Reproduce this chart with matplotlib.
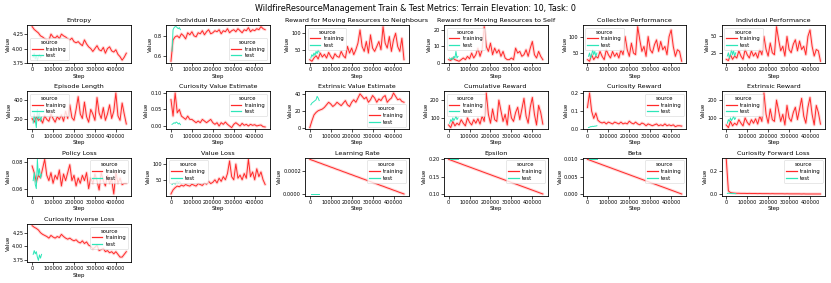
import numpy as np
import matplotlib
matplotlib.use("Agg")
import matplotlib.pyplot as plt
from matplotlib.lines import Line2D

TRAIN_STEPS = list(range(0, 460000, 10000))   # 46 points
TEST_STEPS = list(range(5000, 50000, 5000))   # 9 points

entropy_train = [4.38, 4.33, 4.30, 4.27, 4.22, 4.20, 4.17, 4.15, 4.14, 4.25, 4.20, 4.18, 4.22, 4.17, 4.25, 4.22, 4.20, 4.17, 4.15, 4.18, 4.12, 4.10, 4.12, 4.08, 4.05, 4.15, 4.08, 4.03, 4.00, 3.95, 4.00, 4.05, 3.98, 3.96, 4.02, 3.92, 4.00, 4.03, 3.96, 3.94, 3.98, 3.90, 3.86, 3.80, 3.85, 3.92]
entropy_test = [3.85, 3.92, 3.82, 3.88, 3.80, 3.86, 3.90, 3.84, 3.88]

irc_train = [0.55, 0.76, 0.79, 0.80, 0.78, 0.82, 0.80, 0.77, 0.83, 0.81, 0.84, 0.80, 0.79, 0.83, 0.82, 0.85, 0.81, 0.84, 0.86, 0.82, 0.83, 0.85, 0.84, 0.86, 0.82, 0.85, 0.84, 0.87, 0.83, 0.85, 0.86, 0.84, 0.87, 0.85, 0.83, 0.86, 0.85, 0.88, 0.84, 0.86, 0.85, 0.87, 0.86, 0.89, 0.87, 0.86]
irc_test = [0.65, 0.86, 0.88, 0.89, 0.89, 0.88, 0.87, 0.88, 0.86]

rmn_train = [20, 15, 25, 32, 22, 40, 28, 36, 25, 42, 30, 22, 38, 30, 27, 45, 32, 25, 60, 40, 55, 35, 50, 70, 110, 60, 45, 75, 40, 95, 55, 45, 60, 75, 50, 120, 70, 55, 90, 45, 80, 100, 60, 45, 85, 20]
rmn_test = [25, 35, 30, 40, 33, 45, 38, 50, 42]

rms_train = [2, 1.5, 3, 2, 1.5, 1, 2, 3, 2, 4, 2.5, 6, 3, 5, 9, 4, 8, 22, 10, 7, 12, 5, 9, 6, 8, 4, 7, 3, 2, 2, 3, 2, 9, 6, 7, 4, 5, 8, 4, 9, 13, 5, 3, 7, 4, 2]
rms_test = [3, 2, 3, 2, 4, 3, 7, 3, 4]

cp_train = [30, 25, 45, 30, 40, 35, 55, 40, 30, 60, 45, 35, 55, 40, 50, 35, 60, 45, 100, 60, 40, 80, 50, 45, 130, 90, 55, 70, 40, 100, 60, 50, 75, 90, 55, 85, 60, 70, 45, 100, 120, 70, 40, 60, 55, 25]
cp_test = [40, 50, 35, 45, 60, 45, 55, 40, 50]

ip_train = [15, 13, 22, 15, 20, 17, 28, 20, 15, 30, 22, 17, 28, 20, 25, 17, 30, 22, 50, 30, 20, 40, 25, 22, 65, 45, 28, 35, 20, 50, 30, 25, 38, 45, 28, 43, 30, 35, 22, 50, 60, 35, 20, 30, 28, 12]
ip_test = [20, 25, 17, 22, 30, 22, 28, 20, 25]

el_train = [200, 160, 220, 180, 200, 150, 230, 190, 170, 250, 200, 160, 220, 190, 240, 170, 280, 200, 350, 210, 180, 300, 440, 250, 200, 380, 220, 160, 300, 250, 180, 430, 260, 200, 320, 180, 250, 350, 200, 280, 480, 230, 180, 370, 250, 140]
el_test = [150, 250, 180, 100, 300, 200, 260, 170, 220]

cve_train = [0.08, 0.03, 0.10, 0.04, 0.05, 0.03, 0.025, 0.02, 0.03, 0.02, 0.02, 0.015, 0.01, 0.015, 0.01, 0.02, 0.015, 0.01, 0.015, 0.02, 0.01, 0.005, 0.01, 0.0, 0.01, 0.005, 0.012, 0.005, 0.0, -0.005, 0.005, 0.01, 0.005, 0.0, 0.008, 0.002, 0.005, 0.0, 0.005, 0.002, 0.004, 0.0, 0.002, 0.003, -0.002, -0.003]
cve_test = [0.005, 0.007, 0.01, 0.008, 0.012, 0.01, 0.006, 0.009, 0.004]

eve_train = [0, 8, 15, 18, 20, 21, 22, 24, 27, 30, 28, 25, 27, 30, 28, 26, 29, 32, 27, 25, 30, 33, 30, 35, 40, 37, 34, 36, 30, 33, 38, 35, 30, 34, 32, 36, 38, 30, 33, 35, 41, 37, 33, 34, 31, 30]
eve_test = [27, 29, 30, 31, 32, 33, 37, 35, 32]

cr_train = [60, 45, 80, 55, 70, 60, 90, 70, 55, 100, 75, 60, 90, 70, 95, 65, 110, 80, 240, 120, 70, 150, 90, 80, 200, 140, 80, 120, 60, 170, 100, 80, 130, 160, 90, 150, 210, 110, 70, 160, 215, 120, 60, 170, 130, 65]
cr_test = [70, 90, 80, 100, 85, 95, 110, 90, 100]

cur_train = [0.12, 0.20, 0.10, 0.06, 0.09, 0.05, 0.04, 0.035, 0.04, 0.03, 0.04, 0.035, 0.03, 0.04, 0.035, 0.03, 0.04, 0.03, 0.035, 0.03, 0.045, 0.035, 0.03, 0.04, 0.03, 0.025, 0.035, 0.03, 0.02, 0.03, 0.025, 0.02, 0.025, 0.03, 0.02, 0.025, 0.02, 0.03, 0.02, 0.025, 0.02, 0.025, 0.015, 0.02, 0.02, 0.018]
cur_test = [0.01, 0.012, 0.015, 0.015, 0.017, 0.016, 0.018, 0.018, 0.02]

er_train = [60, 45, 80, 55, 70, 60, 90, 70, 55, 100, 75, 60, 90, 70, 95, 65, 110, 80, 240, 120, 70, 150, 90, 80, 200, 140, 80, 120, 60, 170, 100, 80, 130, 160, 90, 150, 210, 110, 70, 160, 215, 120, 60, 170, 130, 65]
er_test = [70, 90, 80, 100, 85, 95, 110, 90, 100]

pl_train = [0.077, 0.072, 0.065, 0.070, 0.068, 0.075, 0.082, 0.070, 0.066, 0.072, 0.064, 0.070, 0.067, 0.074, 0.062, 0.071, 0.066, 0.072, 0.078, 0.066, 0.070, 0.062, 0.068, 0.064, 0.070, 0.066, 0.072, 0.060, 0.068, 0.064, 0.071, 0.066, 0.059, 0.072, 0.066, 0.062, 0.070, 0.064, 0.067, 0.056, 0.072, 0.064, 0.068, 0.063, 0.064, 0.064]
pl_test = [0.066, 0.072, 0.063, 0.060, 0.082, 0.070, 0.075, 0.068, 0.071]

vl_train = [5, 18, 25, 30, 28, 33, 30, 35, 32, 30, 36, 33, 30, 38, 35, 32, 40, 36, 45, 38, 42, 50, 40, 55, 45, 60, 50, 70, 110, 60, 50, 100, 55, 65, 50, 70, 55, 115, 60, 75, 50, 85, 60, 75, 50, 35]
vl_test = [35, 38, 40, 36, 42, 45, 40, 44, 42]

lr_train = [0.0003, 0.000293, 0.000287, 0.00028, 0.000273, 0.000267, 0.00026, 0.000253, 0.000247, 0.00024, 0.000233, 0.000227, 0.00022, 0.000213, 0.000207, 0.0002, 0.000193, 0.000187, 0.00018, 0.000173, 0.000167, 0.00016, 0.000153, 0.000147, 0.00014, 0.000133, 0.000127, 0.00012, 0.000113, 0.000107, 0.0001, 0.000093, 0.000087, 0.00008, 0.000073, 0.000067, 0.00006, 0.000053, 0.000047, 0.00004, 0.000033, 0.000027, 0.00002, 0.000013, 0.000007, 0.0]
lr_test = [0.0, 0.0, 0.0, 0.0, 0.0, 0.0, 0.0, 0.0, 0.0]

eps_train = [0.2, 0.1978, 0.1956, 0.1933, 0.1911, 0.1889, 0.1867, 0.1844, 0.1822, 0.18, 0.1778, 0.1756, 0.1733, 0.1711, 0.1689, 0.1667, 0.1644, 0.1622, 0.16, 0.1578, 0.1556, 0.1533, 0.1511, 0.1489, 0.1467, 0.1444, 0.1422, 0.14, 0.1378, 0.1356, 0.1333, 0.1311, 0.1289, 0.1267, 0.1244, 0.1222, 0.12, 0.1178, 0.1156, 0.1133, 0.1111, 0.1089, 0.1067, 0.1044, 0.1022, 0.1]
eps_test = [0.2, 0.2, 0.2, 0.2, 0.2, 0.2, 0.2, 0.2, 0.2]

beta_train = [0.01, 0.00978, 0.00956, 0.00933, 0.00911, 0.00889, 0.00867, 0.00844, 0.00822, 0.008, 0.00778, 0.00756, 0.00733, 0.00711, 0.00689, 0.00667, 0.00644, 0.00622, 0.006, 0.00578, 0.00556, 0.00533, 0.00511, 0.00489, 0.00467, 0.00444, 0.00422, 0.004, 0.00378, 0.00356, 0.00333, 0.00311, 0.00289, 0.00267, 0.00244, 0.00222, 0.002, 0.00178, 0.00156, 0.00133, 0.00111, 0.00089, 0.00067, 0.00044, 0.00022, 0.0]
beta_test = [0.01, 0.01, 0.01, 0.01, 0.01, 0.01, 0.01, 0.01, 0.01]

cfl_train = [0.30, 0.03, 0.015, 0.012, 0.01, 0.009, 0.009, 0.008, 0.008, 0.008, 0.007, 0.008, 0.007, 0.007, 0.007, 0.006, 0.007, 0.006, 0.006, 0.006, 0.006, 0.005, 0.006, 0.005, 0.005, 0.005, 0.005, 0.005, 0.004, 0.005, 0.004, 0.004, 0.004, 0.004, 0.004, 0.004, 0.003, 0.004, 0.003, 0.003, 0.003, 0.003, 0.003, 0.003, 0.003, 0.003]
cfl_test = [0.008, 0.01, 0.009, 0.008, 0.007, 0.008, 0.007, 0.007, 0.006]

cil_train = [4.38, 4.35, 4.33, 4.30, 4.25, 4.22, 4.20, 4.18, 4.15, 4.20, 4.17, 4.15, 4.18, 4.16, 4.22, 4.18, 4.15, 4.13, 4.15, 4.12, 4.10, 4.12, 4.08, 4.06, 4.10, 4.05, 4.08, 4.02, 4.00, 3.95, 3.98, 4.02, 3.92, 3.94, 3.96, 3.90, 3.92, 3.88, 3.90, 3.86, 3.90, 3.85, 3.80, 3.80, 3.85, 3.90]
cil_test = [3.85, 3.92, 3.86, 3.90, 3.80, 3.74, 3.84, 3.78, 3.85]

TITLES = ["Entropy", "Individual Resource Count", "Reward for Moving Resources to Neighbours",
          "Reward for Moving Resources to Self", "Collective Performance", "Individual Performance",
          "Episode Length", "Curiosity Value Estimate", "Extrinsic Value Estimate",
          "Cumulative Reward", "Curiosity Reward", "Extrinsic Reward",
          "Policy Loss", "Value Loss", "Learning Rate", "Epsilon", "Beta",
          "Curiosity Forward Loss", "Curiosity Inverse Loss"]
TRAIN = [entropy_train, irc_train, rmn_train, rms_train, cp_train, ip_train, el_train, cve_train,
         eve_train, cr_train, cur_train, er_train, pl_train, vl_train, lr_train, eps_train, beta_train,
         cfl_train, cil_train]
TEST = [entropy_test, irc_test, rmn_test, rms_test, cp_test, ip_test, el_test, cve_test,
        eve_test, cr_test, cur_test, er_test, pl_test, vl_test, lr_test, eps_test, beta_test,
        cfl_test, cil_test]
YTICKS = [[3.75, 4.0, 4.25], [0.6, 0.8], [50, 100], [0, 10, 20], [50, 100], [25, 50],
          [200, 400], [0.0, 0.05, 0.10], [0, 20, 40], [100, 200], [0.0, 0.1, 0.2], [100, 200],
          [0.06, 0.08], [50, 100], [0.0, 0.0002], [0.10, 0.15, 0.20], [0.0, 0.005, 0.010],
          [0.0, 0.2], [3.75, 4.0, 4.25]]
LEGEND_LOC = ["lower left", "lower right", "upper left", "upper left", "upper left", "upper left",
              "upper left", "upper right", "lower right", "upper left", "upper right", "upper left",
              "upper right", "upper left", "upper right", "upper right", "upper right",
              "upper right", "upper right"]

TRAIN_COLOR = "#ff2a2a"
TEST_COLOR = "#2ee6b8"

plt.rcParams["font.family"] = "DejaVu Sans"
fig, axes = plt.subplots(4, 6, figsize=(8.31, 2.83), dpi=100)
fig.subplots_adjust(left=0.033, right=0.993, top=0.912, bottom=0.074, wspace=0.34, hspace=0.74)
fig.suptitle("WildfireResourceManagement Train & Test Metrics: Terrain Elevation: 10, Task: 0",
             fontsize=5.8, y=0.985)

for i, ax in enumerate(axes.flat):
    if i >= len(TITLES):
        ax.axis("off")
        continue
    tr = TRAIN[i]
    te = TEST[i]
    ax.plot(TRAIN_STEPS, tr, color=TRAIN_COLOR, lw=2.2, alpha=0.18, solid_capstyle="round")
    ax.plot(TRAIN_STEPS, tr, color=TRAIN_COLOR, lw=0.7)
    ax.plot(TEST_STEPS, te, color=TEST_COLOR, lw=0.7)
    ax.set_title(TITLES[i], fontsize=4.6, pad=2)
    ax.set_xlabel("Step", fontsize=4.0, labelpad=1)
    ax.set_ylabel("Value", fontsize=4.0, labelpad=1)
    ax.set_xticks([0, 100000, 200000, 300000, 400000])
    ax.set_yticks(YTICKS[i])
    ax.tick_params(labelsize=3.6, length=2, width=0.5, pad=1)
    for s in ax.spines.values():
        s.set_linewidth(0.6)
    handles = [Line2D([], [], color=TRAIN_COLOR, lw=0.9), Line2D([], [], color=TEST_COLOR, lw=0.9)]
    leg = ax.legend(handles, ["training", "test"], title="source", loc=LEGEND_LOC[i],
                    fontsize=3.8, title_fontsize=3.8, handlelength=2.0, borderpad=0.4,
                    labelspacing=0.3, handletextpad=0.6, framealpha=0.8)
    leg.get_frame().set_linewidth(0.4)

fig.savefig("out.png", dpi=100)
